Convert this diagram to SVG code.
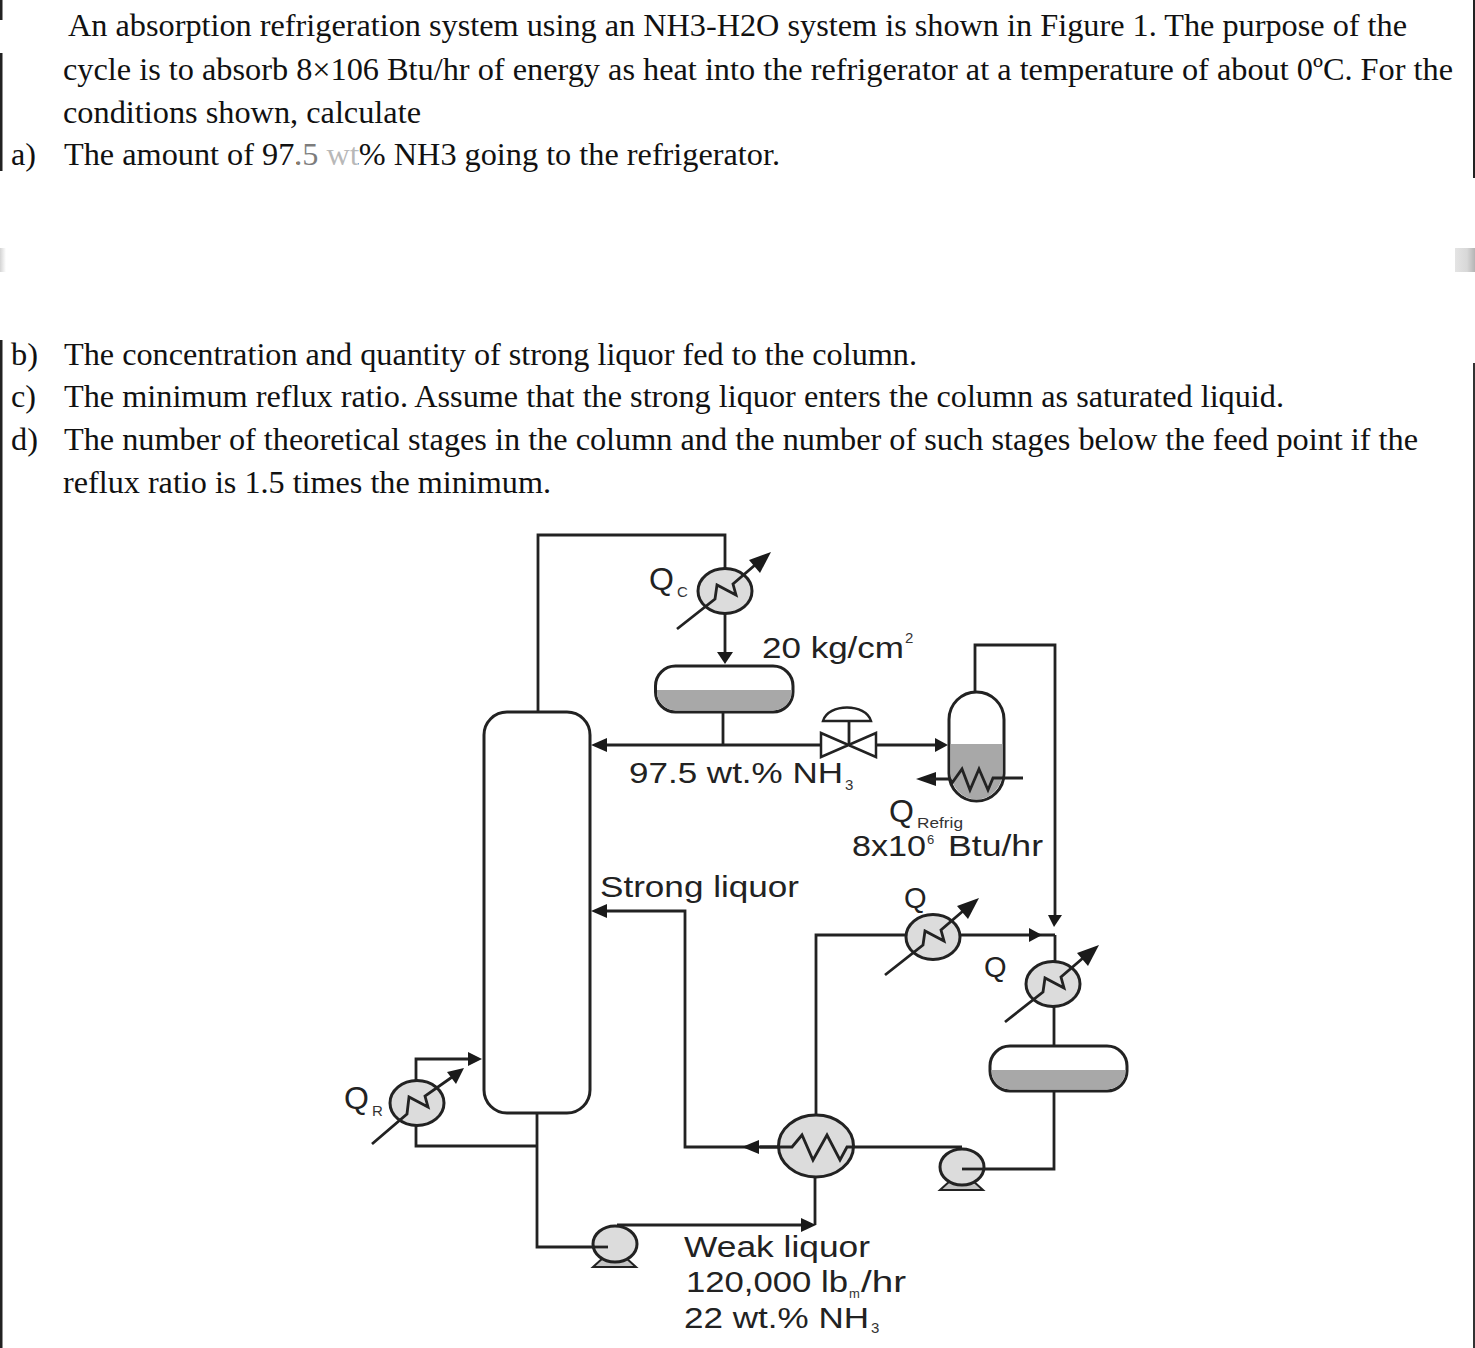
<svg xmlns="http://www.w3.org/2000/svg" width="1475" height="1348" viewBox="0 0 1475 1348">
<style>
.t{font-family:"Liberation Serif",serif;font-size:32.500px;fill:#111}
.s{font-family:"Liberation Sans",Arial,sans-serif;font-size:29px;fill:#222}
.q{font-size:32px}
.m{font-family:"Liberation Sans",Arial,sans-serif;font-size:15px;fill:#333}
.n{font-size:13px}
.l{fill:none;stroke:#222;stroke-width:2.800}
.h{fill:#dcdcdc;stroke:#222;stroke-width:3}
.v{fill:#fff;stroke:#222;stroke-width:3}
.lq{fill:#a8a8a8}
.a{fill:#1a1a1a}
</style>
<defs>
<linearGradient id="barR" x1="0" y1="0" x2="1" y2="0"><stop offset="0" stop-color="#e4e4e4"/><stop offset="0.6" stop-color="#d8d8d8"/><stop offset="1" stop-color="#b4b4b4"/></linearGradient>
<linearGradient id="barL" x1="0" y1="0" x2="1" y2="0"><stop offset="0" stop-color="#d4d4d4"/><stop offset="1" stop-color="#ffffff"/></linearGradient>
<g id="hx">
<ellipse class="h" cx="0" cy="0" rx="27" ry="22.500"/>
<path class="l" d="M-48 38L-10 8L-8 -6L11 4L8 -7L37 -32"/>
<path class="a" d="M46 -39L24 -31L35 -18Z"/>
</g>
<g id="pump">
<path fill="#c4c4c4" stroke="#222" stroke-width="2" d="M-11 13L-22 23H21L10 13Z"/>
<ellipse class="h" cx="0" cy="0" rx="22" ry="18"/>
</g>
</defs>
<rect width="1475" height="1348" fill="#fff"/>

<g id="margins">
<rect x="0" y="0" width="2.500" height="20" fill="#222"/>
<rect x="0" y="53" width="2.500" height="118" fill="#222"/>
<rect x="0" y="340" width="2.500" height="1008" fill="#222"/>
<rect x="0" y="248" width="6" height="24" fill="url(#barL)"/>
<rect x="1455" y="248" width="20" height="24" fill="url(#barR)"/>
<rect x="1473" y="0" width="2" height="178" fill="#222"/>
<rect x="1473" y="363" width="2" height="985" fill="#333"/>
</g>

<g id="problem-text">
<text class="t" x="68" y="36" textLength="1339" lengthAdjust="spacingAndGlyphs">An absorption refrigeration system using an NH3-H2O system is shown in Figure 1. The purpose of the</text>
<text class="t" x="63" y="79.500" textLength="1390" lengthAdjust="spacingAndGlyphs">cycle is to absorb 8×106 Btu/hr of energy as heat into the refrigerator at a temperature of about 0ºC. For the</text>
<text class="t" x="63" y="122.500" textLength="358" lengthAdjust="spacingAndGlyphs">conditions shown, calculate</text>
<text class="t" x="11" y="164.500" textLength="25" lengthAdjust="spacingAndGlyphs">a)</text>
<text class="t" x="64" y="164.500" textLength="716" lengthAdjust="spacingAndGlyphs">The amount of 97.5 wt% NH3 going to the refrigerator.</text>
<rect x="297" y="140" width="21" height="30" fill="#fff" opacity="0.45"/>
<rect x="325" y="140" width="33" height="30" fill="#fff" opacity="0.7"/>
<text class="t" x="11" y="364.500" textLength="27" lengthAdjust="spacingAndGlyphs">b)</text>
<text class="t" x="64" y="364.500" textLength="853" lengthAdjust="spacingAndGlyphs">The concentration and quantity of strong liquor fed to the column.</text>
<text class="t" x="11" y="406.500" textLength="25" lengthAdjust="spacingAndGlyphs">c)</text>
<text class="t" x="64" y="406.500" textLength="1220" lengthAdjust="spacingAndGlyphs">The minimum reflux ratio. Assume that the strong liquor enters the column as saturated liquid.</text>
<text class="t" x="11" y="449.500" textLength="27" lengthAdjust="spacingAndGlyphs">d)</text>
<text class="t" x="64" y="449.500" textLength="1354" lengthAdjust="spacingAndGlyphs">The number of theoretical stages in the column and the number of such stages below the feed point if the</text>
<text class="t" x="63" y="492.500" textLength="488" lengthAdjust="spacingAndGlyphs">reflux ratio is 1.5 times the minimum.</text>
</g>

<g id="connectors">
<path class="l" d="M725 570V535H538V712"/>
<path class="l" d="M725 613V652"/>
<path class="l" d="M723 712V745"/>
<path class="l" d="M605 745H822"/>
<path class="l" d="M876 745H936"/>
<path class="l" d="M975 692V645H1055V916"/>
<path class="l" d="M1055 935V962"/>
<path class="l" d="M1054 1006V1046"/>
<path class="l" d="M1054 1091V1169H962"/>
<path class="l" d="M816 1115V935H906"/>
<path class="l" d="M960 935H1055"/>
<path class="l" d="M606 911H685V1147H792"/>
<path class="l" d="M854 1147H962"/>
<path class="l" d="M416 1081V1059H470"/>
<path class="l" d="M416 1125V1146H537"/>
<path class="l" d="M537 1113V1247H608"/>
<path class="l" d="M617 1225H804"/>
<path class="l" d="M815 1177V1225"/>
<path class="a" d="M725 664L717 652H733Z"/>
<path class="a" d="M591 745L607 738V752Z"/>
<path class="a" d="M948 745L935 738V752Z"/>
<path class="a" d="M591 911L607 904V918Z"/>
<path class="a" d="M1054 927L1048 915H1062Z"/>
<path class="a" d="M1042 935L1029 928V942Z"/>
<path class="a" d="M742 1147L759 1140V1154Z"/>
<path class="a" d="M482 1059L468 1052V1066Z"/>
<path class="a" d="M816 1225L801 1218V1232Z"/>
<path class="a" d="M916 779L936 772V786Z"/>
</g>

<g id="column"><rect class="v" x="484" y="712" width="106" height="401" rx="23"/></g>

<g id="condenser" transform="translate(725 591)"><use href="#hx"/></g>
<g id="reflux-drum">
<rect class="v" x="655.500" y="666" width="137.500" height="46" rx="20"/>
<path class="lq" d="M657 690H791.500V692A18.500 18.500 0 0 1 773 710.500H675.500A18.500 18.500 0 0 1 657 692Z"/>
</g>
<g id="valve">
<path fill="#fff" stroke="#222" stroke-width="2.500" d="M821 733V757L876 733V757Z"/>
<path class="l" d="M849 745V722"/>
<path fill="#fff" stroke="#222" stroke-width="2.500" d="M823 721C828 703 866 703 871 721Z"/>
</g>
<g id="evaporator">
<rect class="v" x="949" y="692" width="55" height="109" rx="27.500"/>
<path class="lq" d="M950.500 744H1002.500V772A26 27.500 0 0 1 950.500 772Z"/>
<path class="l" d="M1023 778H993L988 790L979 769L970 790L962 769L952 783L950 779H930"/>
</g>
<g id="absorber-hx" transform="translate(933 937)"><use href="#hx"/></g>
<g id="condenser-2" transform="translate(1053 984)"><use href="#hx"/></g>
<g id="receiver">
<rect class="v" x="990" y="1046" width="137" height="45" rx="20"/>
<path class="lq" d="M991.500 1070H1125.500V1071A18.500 18.500 0 0 1 1107 1089.500H1010A18.500 18.500 0 0 1 991.500 1071Z"/>
</g>
<g id="reboiler" transform="translate(417 1103)">
<ellipse class="h" cx="0" cy="0" rx="27" ry="22.500"/>
<path class="l" d="M-45 41L-10 11L-8 -6L11 4L8 -7L38 -28"/>
<path class="a" d="M47 -35L30 -31L39 -19Z"/>
</g>
<g id="economizer">
<ellipse class="h" cx="816" cy="1146" rx="37.500" ry="31"/>
<path class="l" d="M760 1147H792L802 1135L813 1160L827 1135L840 1160L847 1147H854"/>
</g>
<g id="pump-1" transform="translate(615 1244)"><use href="#pump"/><path class="l" d="M-22 3H-7"/></g>
<g id="pump-2" transform="translate(962 1167)"><use href="#pump"/><path class="l" d="M0 2H22"/></g>

<g id="labels">
<text class="s q" x="649" y="590">Q</text><text class="m" x="677" y="597">C</text>
<text class="s" x="762" y="658" textLength="142" lengthAdjust="spacingAndGlyphs">20 kg/cm</text><text class="m" x="905" y="643">2</text>
<text class="s" x="629" y="783" textLength="214" lengthAdjust="spacingAndGlyphs">97.5 wt.% NH</text><text class="m" x="845" y="790">3</text>
<text class="s q" x="889" y="822">Q</text><text class="m" x="917" y="828" textLength="46" lengthAdjust="spacingAndGlyphs">Refrig</text>
<text class="s" x="852" y="856" textLength="74" lengthAdjust="spacingAndGlyphs">8x10</text><text class="m n" x="927" y="844">6</text><text class="s" x="948" y="856" textLength="95" lengthAdjust="spacingAndGlyphs">Btu/hr</text>
<text class="s" x="600" y="897" textLength="199" lengthAdjust="spacingAndGlyphs">Strong liquor</text>
<text class="s" x="904" y="908">Q</text>
<text class="s" x="984" y="977">Q</text>
<text class="s q" x="344" y="1109">Q</text><text class="m" x="372" y="1116">R</text>
<text class="s" x="684" y="1257" textLength="186" lengthAdjust="spacingAndGlyphs">Weak liquor</text>
<text class="s" x="686" y="1292" textLength="162" lengthAdjust="spacingAndGlyphs">120,000 lb</text><text class="m n" x="849" y="1298">m</text><text class="s" x="861" y="1292" textLength="45" lengthAdjust="spacingAndGlyphs">/hr</text>
<text class="s" x="684" y="1328" textLength="185" lengthAdjust="spacingAndGlyphs">22 wt.% NH</text><text class="m" x="871" y="1333">3</text>
</g>
</svg>
